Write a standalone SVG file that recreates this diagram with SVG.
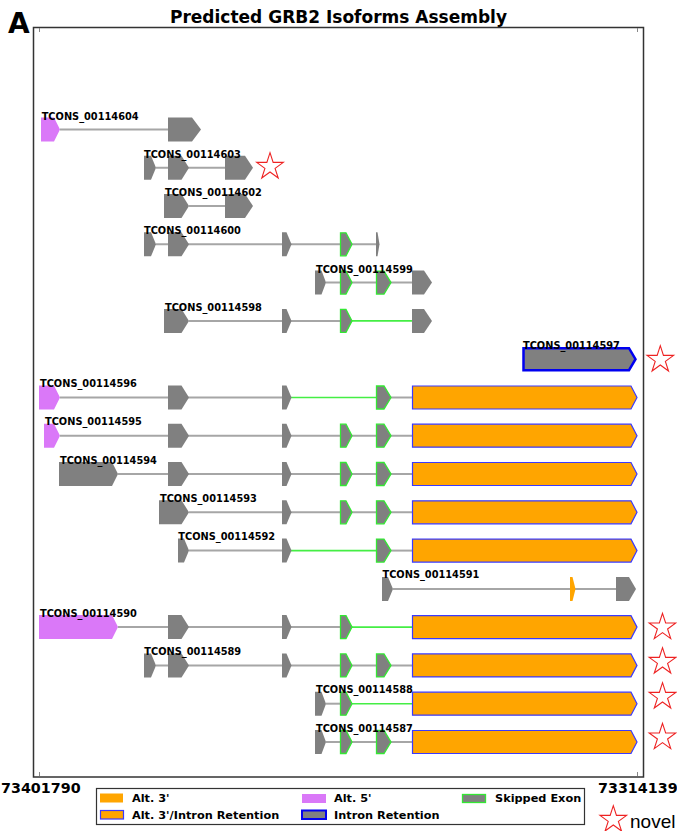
<svg xmlns="http://www.w3.org/2000/svg" xmlns:xlink="http://www.w3.org/1999/xlink" width="677" height="831" viewBox="0 0 677 831">
<style>
.ex{fill:#808080}
.sk{fill:#808080;stroke:#33e833;stroke-width:1.3}
.p5{fill:#da78f8}
.a3{fill:#ffa500;stroke:#3a3aff;stroke-width:1.2}
.o3{fill:#ffa500}
.ir{fill:#808080;stroke:#0000f0;stroke-width:2.5}
.in{stroke:#a6a6a6;stroke-width:2}
.gl{stroke:#44ee44;stroke-width:1.6}
.lbl{font-family:"DejaVu Sans",sans-serif;font-weight:bold;font-size:9.8px;fill:#000}
.leg{font-family:"DejaVu Sans",sans-serif;font-weight:bold;font-size:11.3px;fill:#000}
.ax{font-family:"DejaVu Sans",sans-serif;font-weight:bold;font-size:14.3px;fill:#000}
.star{fill:#fff;stroke:#ee2222;stroke-width:1.1}
.tick{stroke:#888;stroke-width:1}
</style>
<defs>
<polygon id="star" points="0,-14 3.145,-4.328 13.315,-4.326 5.088,1.653 8.229,11.326 0,5.35 -8.229,11.326 -5.088,1.653 -13.315,-4.326 -3.145,-4.328"/>
</defs>
<rect width="677" height="831" fill="#fff"/>
<text x="8" y="33" font-family="DejaVu Sans,sans-serif" font-weight="bold" font-size="28">A</text>
<text x="338.5" y="22.5" text-anchor="middle" font-family="DejaVu Sans,sans-serif" font-weight="bold" font-size="17">Predicted GRB2 Isoforms Assembly</text>
<rect x="33.5" y="27.5" width="610" height="749.5" fill="none" stroke="#333" stroke-width="1.5"/>
<g id="ticks">
<line class="tick" x1="39.5" y1="28" x2="39.5" y2="32"/>
<line class="tick" x1="637.5" y1="28" x2="637.5" y2="32"/>
<line class="tick" x1="39.5" y1="772" x2="39.5" y2="776"/>
<line class="tick" x1="637.5" y1="772" x2="637.5" y2="776"/>
</g>
<g id="connectors">
<line class="in" x1="60" y1="129.5" x2="168" y2="129.5"/>
<line class="in" x1="156" y1="167.8" x2="225" y2="167.8"/>
<line class="in" x1="189" y1="206.1" x2="225" y2="206.1"/>
<line class="in" x1="156" y1="244.3" x2="378" y2="244.3"/>
<line class="in" x1="326" y1="282.6" x2="412" y2="282.6"/>
<line class="in" x1="189" y1="320.9" x2="340" y2="320.9"/>
<line class="gl" x1="352" y1="320.9" x2="412" y2="320.9"/>
<line class="in" x1="60" y1="397.5" x2="282" y2="397.5"/>
<line class="gl" x1="291" y1="397.5" x2="376" y2="397.5"/>
<line class="in" x1="391" y1="397.5" x2="412" y2="397.5"/>
<line class="in" x1="60" y1="435.7" x2="412" y2="435.7"/>
<line class="in" x1="118" y1="474" x2="412" y2="474"/>
<line class="in" x1="189" y1="512.3" x2="412" y2="512.3"/>
<line class="in" x1="189" y1="550.6" x2="282" y2="550.6"/>
<line class="gl" x1="291" y1="550.6" x2="376" y2="550.6"/>
<line class="in" x1="391" y1="550.6" x2="412" y2="550.6"/>
<line class="in" x1="393" y1="588.9" x2="616" y2="588.9"/>
<line class="in" x1="118" y1="627.1" x2="340" y2="627.1"/>
<line class="gl" x1="352" y1="627.1" x2="412" y2="627.1"/>
<line class="in" x1="156" y1="665.4" x2="412" y2="665.4"/>
<line class="in" x1="326" y1="703.7" x2="340" y2="703.7"/>
<line class="gl" x1="352" y1="703.7" x2="412" y2="703.7"/>
<line class="in" x1="326" y1="742" x2="412" y2="742"/>
</g>
<g id="TCONS_00114604" transform="translate(0,129.5)">
<polygon class="p5" points="41,-12 54,-12 60,0 54,12 41,12"/>
<polygon class="ex" points="168,-12 192,-12 201,0 192,12 168,12"/>
<text class="lbl" x="41.7" y="-10">TCONS_00114604</text>
</g>
<g id="TCONS_00114603" transform="translate(0,167.8)">
<polygon class="ex" points="144,-12 151,-12 156,0 151,12 144,12"/>
<polygon class="ex" points="168,-12 181.5,-12 189,0 181.5,12 168,12"/>
<polygon class="ex" points="225,-12 245,-12 253,0 245,12 225,12"/>
<text class="lbl" x="144" y="-10">TCONS_00114603</text>
</g>
<g id="TCONS_00114602" transform="translate(0,206.1)">
<polygon class="ex" points="164,-12 181.5,-12 189,0 181.5,12 164,12"/>
<polygon class="ex" points="225,-12 245,-12 253,0 245,12 225,12"/>
<text class="lbl" x="165" y="-10">TCONS_00114602</text>
</g>
<g id="TCONS_00114600" transform="translate(0,244.3)">
<polygon class="ex" points="144,-12 151,-12 156,0 151,12 144,12"/>
<polygon class="ex" points="168,-12 181.5,-12 189,0 181.5,12 168,12"/>
<polygon class="ex" points="282,-12 286.5,-12 291.5,0 286.5,12 282,12"/>
<polygon class="sk" points="340.5,-11.5 346,-11.5 352,0 346,11.5 340.5,11.5"/>
<polygon class="ex" points="376,-12 377.5,-12 379.5,0 377.5,12 376,12"/>
<text class="lbl" x="144" y="-10">TCONS_00114600</text>
</g>
<g id="TCONS_00114599" transform="translate(0,282.6)">
<polygon class="ex" points="315,-12 321.5,-12 326,0 321.5,12 315,12"/>
<polygon class="sk" points="340.5,-11.5 346,-11.5 352,0 346,11.5 340.5,11.5"/>
<polygon class="sk" points="376.5,-11.5 384,-11.5 391,0 384,11.5 376.5,11.5"/>
<polygon class="ex" points="412,-12 424,-12 432,0 424,12 412,12"/>
<text class="lbl" x="316" y="-10">TCONS_00114599</text>
</g>
<g id="TCONS_00114598" transform="translate(0,320.9)">
<polygon class="ex" points="164,-12 181.5,-12 189,0 181.5,12 164,12"/>
<polygon class="ex" points="282,-12 286.5,-12 291.5,0 286.5,12 282,12"/>
<polygon class="sk" points="340.5,-11.5 346,-11.5 352,0 346,11.5 340.5,11.5"/>
<polygon class="ex" points="412,-12 424,-12 432,0 424,12 412,12"/>
<text class="lbl" x="165" y="-10">TCONS_00114598</text>
</g>
<g id="TCONS_00114597" transform="translate(0,359.2)">
<polygon class="ir" points="523.5,-11 629,-11 635.5,0 629,11 523.5,11"/>
<text class="lbl" x="523" y="-10">TCONS_00114597</text>
</g>
<g id="TCONS_00114596" transform="translate(0,397.5)">
<polygon class="p5" points="39,-12 54,-12 60,0 54,12 39,12"/>
<polygon class="ex" points="168,-12 181.5,-12 189,0 181.5,12 168,12"/>
<polygon class="ex" points="282,-12 286.5,-12 291.5,0 286.5,12 282,12"/>
<polygon class="sk" points="376.5,-11.5 384,-11.5 391,0 384,11.5 376.5,11.5"/>
<polygon class="a3" points="412.5,-11.5 631,-11.5 637,0 631,11.5 412.5,11.5"/>
<text class="lbl" x="40" y="-10.5">TCONS_00114596</text>
</g>
<g id="TCONS_00114595" transform="translate(0,435.7)">
<polygon class="p5" points="44,-12 54,-12 60,0 54,12 44,12"/>
<polygon class="ex" points="168,-12 181.5,-12 189,0 181.5,12 168,12"/>
<polygon class="ex" points="282,-12 286.5,-12 291.5,0 286.5,12 282,12"/>
<polygon class="sk" points="340.5,-11.5 346,-11.5 352,0 346,11.5 340.5,11.5"/>
<polygon class="sk" points="376.5,-11.5 384,-11.5 391,0 384,11.5 376.5,11.5"/>
<polygon class="a3" points="412.5,-11.5 631,-11.5 637,0 631,11.5 412.5,11.5"/>
<text class="lbl" x="45" y="-10.5">TCONS_00114595</text>
</g>
<g id="TCONS_00114594" transform="translate(0,474)">
<polygon class="ex" points="59,-12 112,-12 118,0 112,12 59,12"/>
<polygon class="ex" points="168,-12 181.5,-12 189,0 181.5,12 168,12"/>
<polygon class="ex" points="282,-12 286.5,-12 291.5,0 286.5,12 282,12"/>
<polygon class="sk" points="340.5,-11.5 346,-11.5 352,0 346,11.5 340.5,11.5"/>
<polygon class="sk" points="376.5,-11.5 384,-11.5 391,0 384,11.5 376.5,11.5"/>
<polygon class="a3" points="412.5,-11.5 631,-11.5 637,0 631,11.5 412.5,11.5"/>
<text class="lbl" x="60" y="-10.5">TCONS_00114594</text>
</g>
<g id="TCONS_00114593" transform="translate(0,512.3)">
<polygon class="ex" points="159,-12 181.5,-12 189,0 181.5,12 159,12"/>
<polygon class="ex" points="282,-12 286.5,-12 291.5,0 286.5,12 282,12"/>
<polygon class="sk" points="340.5,-11.5 346,-11.5 352,0 346,11.5 340.5,11.5"/>
<polygon class="sk" points="376.5,-11.5 384,-11.5 391,0 384,11.5 376.5,11.5"/>
<polygon class="a3" points="412.5,-11.5 631,-11.5 637,0 631,11.5 412.5,11.5"/>
<text class="lbl" x="160" y="-10.5">TCONS_00114593</text>
</g>
<g id="TCONS_00114592" transform="translate(0,550.6)">
<polygon class="ex" points="178,-12 184,-12 189,0 184,12 178,12"/>
<polygon class="ex" points="282,-12 286.5,-12 291.5,0 286.5,12 282,12"/>
<polygon class="sk" points="376.5,-11.5 384,-11.5 391,0 384,11.5 376.5,11.5"/>
<polygon class="a3" points="412.5,-11.5 631,-11.5 637,0 631,11.5 412.5,11.5"/>
<text class="lbl" x="178.3" y="-10.5">TCONS_00114592</text>
</g>
<g id="TCONS_00114591" transform="translate(0,588.9)">
<polygon class="ex" points="382,-12 388,-12 393,0 388,12 382,12"/>
<polygon class="o3" points="570,-12 572.5,-12 575.5,0 572.5,12 570,12"/>
<polygon class="ex" points="616,-12 629,-12 636,0 629,12 616,12"/>
<text class="lbl" x="382.5" y="-10.5">TCONS_00114591</text>
</g>
<g id="TCONS_00114590" transform="translate(0,627.1)">
<polygon class="p5" points="39,-12 112,-12 118,0 112,12 39,12"/>
<polygon class="ex" points="168,-12 181.5,-12 189,0 181.5,12 168,12"/>
<polygon class="ex" points="282,-12 286.5,-12 291.5,0 286.5,12 282,12"/>
<polygon class="sk" points="340.5,-11.5 346,-11.5 352,0 346,11.5 340.5,11.5"/>
<polygon class="a3" points="412.5,-11.5 631,-11.5 637,0 631,11.5 412.5,11.5"/>
<text class="lbl" x="40" y="-10.5">TCONS_00114590</text>
</g>
<g id="TCONS_00114589" transform="translate(0,665.4)">
<polygon class="ex" points="144,-12 151,-12 156,0 151,12 144,12"/>
<polygon class="ex" points="168,-12 181.5,-12 189,0 181.5,12 168,12"/>
<polygon class="ex" points="282,-12 286.5,-12 291.5,0 286.5,12 282,12"/>
<polygon class="sk" points="340.5,-11.5 346,-11.5 352,0 346,11.5 340.5,11.5"/>
<polygon class="sk" points="376.5,-11.5 384,-11.5 391,0 384,11.5 376.5,11.5"/>
<polygon class="a3" points="412.5,-11.5 631,-11.5 637,0 631,11.5 412.5,11.5"/>
<text class="lbl" x="144.3" y="-10.5">TCONS_00114589</text>
</g>
<g id="TCONS_00114588" transform="translate(0,703.7)">
<polygon class="ex" points="315,-12 321.5,-12 326,0 321.5,12 315,12"/>
<polygon class="sk" points="340.5,-11.5 346,-11.5 352,0 346,11.5 340.5,11.5"/>
<polygon class="a3" points="412.5,-11.5 631,-11.5 637,0 631,11.5 412.5,11.5"/>
<text class="lbl" x="316" y="-10.5">TCONS_00114588</text>
</g>
<g id="TCONS_00114587" transform="translate(0,742)">
<polygon class="ex" points="315,-12 321.5,-12 326,0 321.5,12 315,12"/>
<polygon class="sk" points="340.5,-11.5 346,-11.5 352,0 346,11.5 340.5,11.5"/>
<polygon class="sk" points="376.5,-11.5 384,-11.5 391,0 384,11.5 376.5,11.5"/>
<polygon class="a3" points="412.5,-11.5 631,-11.5 637,0 631,11.5 412.5,11.5"/>
<text class="lbl" x="316" y="-10.5">TCONS_00114587</text>
</g>
<g id="stars">
<use xlink:href="#star" class="star" x="270" y="166.7"/>
<use xlink:href="#star" class="star" x="660.3" y="359.7"/>
<use xlink:href="#star" class="star" x="662.5" y="627.3"/>
<use xlink:href="#star" class="star" x="662.5" y="661.7"/>
<use xlink:href="#star" class="star" x="662.5" y="696.7"/>
<use xlink:href="#star" class="star" x="662.5" y="737.3"/>
</g>
<text class="ax" x="1" y="793">73401790</text>
<text class="ax" x="598" y="793">73314139</text>
<g id="legend">
<rect x="96.5" y="788.5" width="488" height="36" fill="#fff" stroke="#333" stroke-width="1.2"/>
<rect x="100" y="793.5" width="23" height="9" class="o3"/>
<text class="leg" x="132" y="802">Alt. 3'</text>
<rect x="100.5" y="810.5" width="23" height="8.5" class="a3"/>
<text class="leg" x="132" y="819">Alt. 3'/Intron Retention</text>
<rect x="302" y="794" width="24" height="9" class="p5"/>
<text class="leg" x="334" y="802">Alt. 5'</text>
<rect x="302" y="810.5" width="24" height="8.5" fill="#808080" stroke="#0000f0" stroke-width="2"/>
<text class="leg" x="334" y="819">Intron Retention</text>
<rect x="462.5" y="794.5" width="23" height="8" class="sk"/>
<text class="leg" x="495" y="802">Skipped Exon</text>
</g>
<g id="novel">
<use xlink:href="#star" class="star" x="613.3" y="819.7"/>
<text x="630" y="827.5" font-family="Liberation Sans,Arial,sans-serif" font-size="19">novel</text>
</g>
</svg>
